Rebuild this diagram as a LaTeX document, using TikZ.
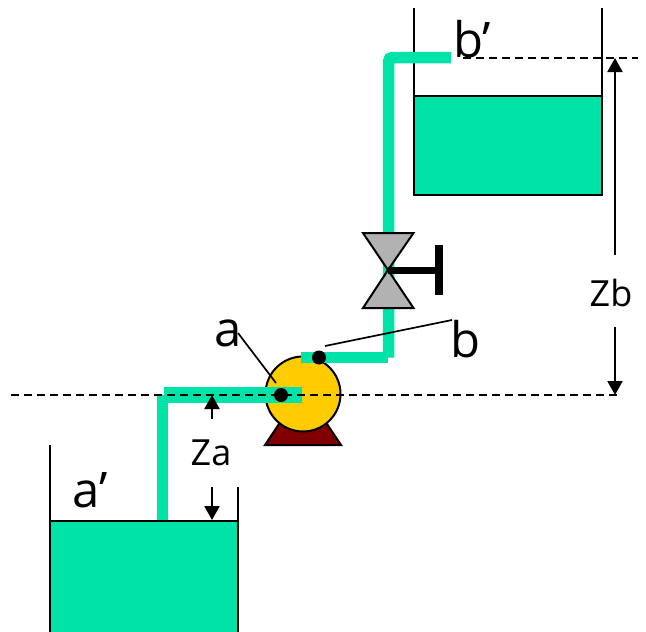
\documentclass[tikz,border=0pt]{standalone}
\usepackage{fontspec}
\setmainfont{Open Sans}
\usetikzlibrary{arrows.meta}
\definecolor{waterteal}{RGB}{0,227,168}
\definecolor{pumpyellow}{RGB}{255,204,0}
\definecolor{basered}{RGB}{128,0,0}
\definecolor{valvegray}{RGB}{178,178,178}
\tikzset{
    water/.style={draw=black, fill=waterteal, line width=2pt},
    wall/.style={draw=black, line width=2pt},
    pipe/.style={draw=waterteal, line width=11.5pt},
    level/.style={draw=black, line width=1.5pt, dash pattern=on 8pt off 5pt},
    valvepart/.style={draw=black, fill=valvegray, line width=2pt, line join=miter},
    dimarrow/.style={draw=black, line width=2pt, -{Triangle[length=14pt,width=15pt]}},
    leader/.style={draw=black, line width=1.7pt},
    bigtext/.style={font=\fontsize{49}{49}\selectfont, inner sep=0pt},
    dimtext/.style={font=\fontsize{36}{36}\selectfont, inner sep=0pt}
}

\begin{document}
\begin{tikzpicture}[x=1pt, y=-1pt]
    \useasboundingbox (0,0) rectangle (646,632);
    % tanks
    \draw[water] (50,520.5) rectangle (238,640);
    \draw[water] (413.5,95.5) rectangle (602,195);
    \draw[wall] (50,445) -- (50,632);
    \draw[wall] (238,487) -- (238,632);
    \draw[wall] (413.5,8) -- (413.5,195);
    \draw[wall] (602,8) -- (602,195);
    % pump
    \draw[draw=black, fill=basered, line width=2pt] (265,445) -- (285,415) -- (321,415) -- (341,445) -- cycle;
    \node[circle, draw=black, fill=pumpyellow, line width=2pt, minimum size=75pt, inner sep=0pt] (pump) at (303,394) {};
    % pipes
    \draw[pipe, rounded corners=4pt] (451,57.5) -- (388.5,57.5) -- (388.5,357.5);
    \draw[pipe] (301,357.5) -- (388,357.5);
    \draw[pipe] (162.5,395) -- (162.5,520);
    \draw[pipe, line width=15.5pt] (164,395) -- (302,395);
    % valve
    \draw[valvepart] (363,233) -- (413.5,233) -- (388,270) -- cycle;
    \draw[valvepart] (363,308) -- (413.5,308) -- (388,270) -- cycle;
    \coordinate (valve) at (388,270);
    \coordinate (handle) at (439,270);
    \draw[black, line width=7pt] (valve) -- (handle);
    \draw[black, line width=8pt] (439,245) -- (439,295);
    % levels
    \draw[level] (11,395) -- (620,395);
    \draw[level] (463,58) -- (638,58);
    % points
    \node[circle, fill=black, minimum size=14pt, inner sep=0pt] (ptA) at (281,395) {};
    \node[circle, fill=black, minimum size=14pt, inner sep=0pt] (ptB) at (319,357.5) {};
    % labels
    \node[bigtext] (labA) at (228,333) {a};
    \node[bigtext] (labB) at (466,339) {b};
    \node[bigtext] (labAp) at (90,490) {a’};
    \node[bigtext] (labBp) at (472,39) {b’};
    \node[dimtext] (labZa) at (211,453) {Za};
    \node[dimtext] (labZb) at (611,293) {Zb};
    \coordinate (leadA1) at (238,333);
    \coordinate (leadA2) at (276,383);
    \coordinate (leadB1) at (325,346);
    \coordinate (leadB2) at (452,320);
    \draw[leader] (leadA1) -- (leadA2);
    \draw[leader] (leadB1) -- (leadB2);
    % heights
    \coordinate (zaTop) at (212,395);
    \coordinate (zaFrom) at (212,419);
    \coordinate (zaDown) at (212,487);
    \coordinate (zaBot) at (212,520);
    \draw[dimarrow] (zaFrom) -- (zaTop);
    \draw[dimarrow] (zaDown) -- (zaBot);
    \coordinate (zbTop) at (615,58);
    \coordinate (zbFrom) at (615,255);
    \coordinate (zbDown) at (615,327);
    \coordinate (zbBot) at (615,395);
    \draw[dimarrow] (zbFrom) -- (zbTop);
    \draw[dimarrow] (zbDown) -- (zbBot);
\end{tikzpicture}
\end{document}
